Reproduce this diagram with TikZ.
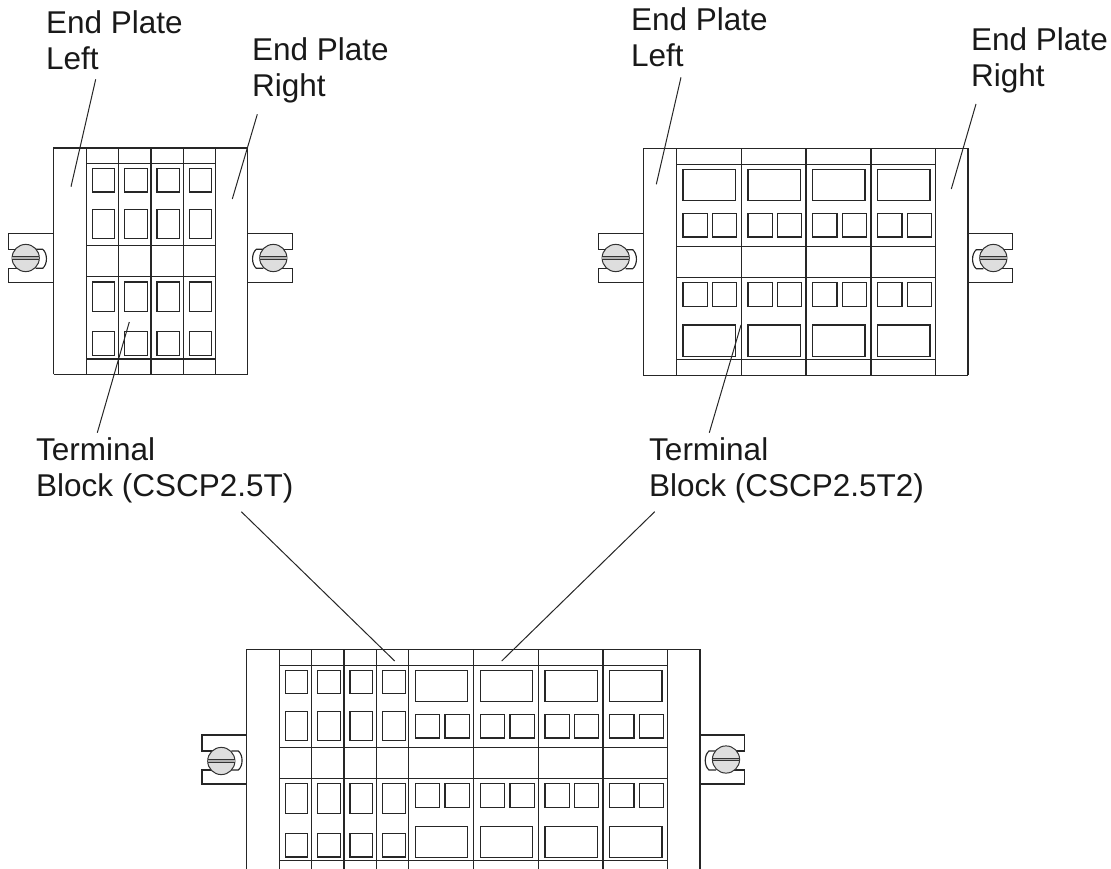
\documentclass[tikz,border=0pt]{standalone}
\usepackage{fontspec}
\setmainfont{Liberation Sans}
\tikzset{
  part/.style={draw=black!85, line width=1.15pt, line join=miter},
  leader/.style={draw=black!85, line width=1pt},
  screw/.style={draw=black!80, line width=1pt, fill=black!13},
  label/.style={anchor=base west, align=left, inner sep=0pt, text=black!90, font=\fontsize{31.5}{36}\selectfont}
}
\newcommand{\framebody}[9]{%
  \draw[part] (#1,\bodybot) -- (#1,#5) -- (#4,#5) -- (#4,\bodybot);
  \draw[part] (#1,\bodybot) -- (#4,\bodybot);
  \draw[part] (#2,#6) -- (#3,#6) (#2,#7) -- (#3,#7) (#2,#8) -- (#3,#8) (#2,#9) -- (#3,#9);
}
\newcommand{\narrowcell}[9]{%
  \draw[part] (#1+6,#2) rectangle (#1+28.4,#3);
  \draw[part] (#1+6,#4) rectangle (#1+28.4,#5);
  \draw[part] (#1+6,#6) rectangle (#1+28.4,#7);
  \draw[part] (#1+6,#8) rectangle (#1+28.4,#9);
}
\newcommand{\widecell}[9]{%
  \draw[part] (#1+6.7,#2) rectangle (#1+59,#3);
  \draw[part] (#1+6.7,#4) rectangle (#1+31,#5);
  \draw[part] (#1+36.3,#4) rectangle (#1+60.6,#5);
  \draw[part] (#1+6.7,#6) rectangle (#1+31,#7);
  \draw[part] (#1+36.3,#6) rectangle (#1+60.6,#7);
  \draw[part] (#1+6.7,#8) rectangle (#1+59,#9);
}
\newcommand{\screwhead}[2]{%
  \draw[screw] (#1,#2) circle (13.6);
  \fill[black!30] (#1-13.4,#2-1.3) rectangle (#1+13.4,#2+1.3);
  \draw[black!80, line width=0.8pt] (#1-13.4,#2-1.3) -- (#1+13.4,#2-1.3) (#1-13.4,#2+1.3) -- (#1+13.4,#2+1.3);
}
\newcommand{\leftclamp}[5]{%
  \draw[part] (#1,#4) -- (#2,#4) -- (#2,#4+16) -- (#3+1,#4+16)
     (#3+1,#4+35) -- (#2,#4+35) -- (#2,#4+49) -- (#1,#4+49);
  \draw[part] (#3+10,#4+16) -- (#3+17,#4+16) .. controls (#3+22,#4+20) and (#3+22,#4+31) .. (#3+17,#4+35) -- (#3+10,#4+35);
  \screwhead{#3}{#5}
}
\newcommand{\rightclamp}[5]{%
  \draw[part] (#1,#4) -- (#2,#4) -- (#2,#4+16) -- (#3-1,#4+16)
     (#3-1,#4+35) -- (#2,#4+35) -- (#2,#4+49) -- (#1,#4+49);
  \draw[part] (#3-10,#4+16) -- (#3-17,#4+16) .. controls (#3-22,#4+20) and (#3-22,#4+31) .. (#3-17,#4+35) -- (#3-10,#4+35);
  \screwhead{#3}{#5}
}
\begin{document}
\begin{tikzpicture}[x=1pt,y=-1pt]
\useasboundingbox (0,0) rectangle (1111,869);
\clip (0,0) rectangle (1111,869);

% ---- assembly A
\def\bodybot{374.3}
\framebody{53.7}{86.3}{215.7}{247.7}{148}{163.3}{245.3}{276.3}{359}
\foreach \x in {86.3,118.7,151,183.3,215.7}{\draw[part] (\x,148) -- (\x,374.3);}
\foreach \x in {86.3,118.7,151,183.3}{\narrowcell{\x}{168.3}{192}{209.3}{238.7}{282}{311.3}{331.3}{355.3}}
\leftclamp{53.7}{8.7}{25.7}{233.3}{258}
\rightclamp{247.7}{292.7}{273.3}{233.3}{258}

% ---- assembly B
\def\bodybot{375.3}
\framebody{643.3}{676.3}{935.7}{968}{148.7}{164.3}{246.3}{277.3}{359.7}
\foreach \x in {676.3,741.3,806,871,935.7}{\draw[part] (\x,148.7) -- (\x,375.3);}
\foreach \x in {676.3,741.3,806,871}{\widecell{\x}{169.3}{200.7}{213.3}{237}{282.7}{306.3}{325}{356.7}}
\leftclamp{643.3}{598.3}{615.7}{233.7}{258}
\rightclamp{968}{1012.7}{993.3}{233.7}{258}

% ---- assembly C
\def\bodybot{880}
\framebody{246.7}{279.3}{667.7}{700}{649.7}{665.3}{747.3}{778.7}{860.3}
\foreach \x in {279.3,311.7,344,376.7,408.7,473.7,538.3,603,667.7}{\draw[part] (\x,649.7) -- (\x,880);}
\foreach \x in {279.3,311.7,344,376.7}{\narrowcell{\x}{670.7}{693.7}{711.3}{740.7}{783.7}{813.3}{833.7}{857}}
\foreach \x in {408.7,473.7,538.3,603}{\widecell{\x}{670.7}{701.7}{714.3}{738}{783.7}{807.3}{826.3}{857.7}}
\leftclamp{246.7}{202}{221.3}{735}{761}
\rightclamp{700}{744.7}{726}{735}{759.5}

% ---- labels (anchored at the baseline of the last line)
\node[label] (epl1) at (46,69.3) {End Plate\\Left};
\node[label] (epr1) at (252,96.7) {End Plate\\Right};
\node[label] (tb1) at (36,496.7) {Terminal\\Block (CSCP2.5T)};
\node[label] (epl2) at (631,66.7) {End Plate\\Left};
\node[label] (epr2) at (971,86.7) {End Plate\\Right};
\node[label] (tb2) at (649,496.7) {Terminal\\Block (CSCP2.5T2)};

% ---- leader ends
\coordinate (a1) at (95.7,79.3);  \coordinate (a1e) at (71,186.7);
\coordinate (a2) at (257.3,114.3); \coordinate (a2e) at (232.3,199);
\coordinate (a3) at (97.3,432.7); \coordinate (a3e) at (129.3,322);
\coordinate (b1) at (681,77.3);  \coordinate (b1e) at (656.3,184.3);
\coordinate (b2) at (976,104); \coordinate (b2e) at (951.3,189);
\coordinate (b3) at (709.3,432.7); \coordinate (b3e) at (741,325);
\coordinate (c1) at (241.3,511.7); \coordinate (c1e) at (394.7,661);
\coordinate (c2) at (654.7,511.7); \coordinate (c2e) at (501.7,661);
\draw[leader] (a1) -- (a1e);
\draw[leader] (a2) -- (a2e);
\draw[leader] (a3) -- (a3e);
\draw[leader] (b1) -- (b1e);
\draw[leader] (b2) -- (b2e);
\draw[leader] (b3) -- (b3e);
\draw[leader] (c1) -- (c1e);
\draw[leader] (c2) -- (c2e);
\end{tikzpicture}
\end{document}
